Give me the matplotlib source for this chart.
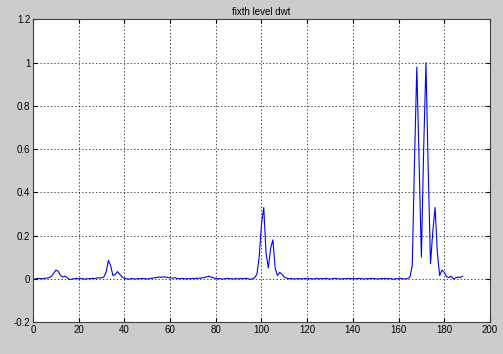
import numpy as np
import matplotlib
matplotlib.use("Agg")
import matplotlib.pyplot as plt

# fifth level dwt coefficients, sample index 1..188
coef = [
    0.000, 0.002, 0.001, 0.000, 0.002, 0.003, 0.005, 0.010, 0.025, 0.040,
    0.035, 0.015, 0.008, 0.012, 0.005, -0.004, -0.002, 0.000, 0.002, 0.000,
    0.001, 0.000, -0.002, 0.001, 0.000, 0.002, 0.001, 0.003, 0.005, 0.004,
    0.008, 0.030, 0.085, 0.060, 0.015, 0.020, 0.033, 0.020, 0.008, 0.002,
    0.000, -0.002, 0.001, 0.000, -0.001, 0.001, 0.000, 0.002, 0.000, -0.001,
    0.001, 0.002, 0.004, 0.006, 0.008, 0.007, 0.009, 0.008, 0.006, 0.004,
    0.003, 0.005, 0.002, 0.000, 0.002, 0.001, -0.001, 0.001, 0.000, 0.002,
    0.001, 0.003, 0.002, 0.004, 0.006, 0.009, 0.012, 0.008, 0.004, 0.002,
    0.000, 0.001, -0.002, 0.000, 0.002, 0.001, 0.000, -0.001, 0.001, 0.000,
    0.001, 0.000, 0.002, 0.001, -0.003, 0.000, 0.005, 0.020, 0.100, 0.250,
    0.330, 0.120, 0.050, 0.140, 0.180, 0.050, 0.015, 0.030, 0.020, 0.008,
    0.003, 0.000, 0.002, -0.001, 0.000, 0.001, 0.000, -0.001, 0.002, 0.000,
    0.001, 0.000, -0.001, 0.002, 0.000, 0.001, 0.000, 0.002, 0.001, -0.001,
    0.000, 0.002, 0.001, 0.000, -0.001, 0.001, 0.000, 0.002, 0.000, 0.001,
    0.000, 0.001, 0.002, 0.000, -0.001, 0.001, 0.000, 0.002, 0.001, 0.000,
    -0.001, 0.001, 0.000, 0.002, 0.000, 0.001, 0.000, -0.002, 0.001, 0.000,
    0.002, 0.000, -0.001, 0.001, 0.008, 0.060, 0.550, 0.980, 0.550, 0.100,
    0.600, 1.000, 0.500, 0.070, 0.220, 0.330, 0.120, 0.015, 0.040, 0.030,
    0.010, 0.005, 0.012, 0.000, 0.004, 0.008, 0.006, 0.012,
]
idx = np.arange(1, len(coef) + 1)

xticks = list(range(0, 201, 20))
yticks = [-0.2, 0, 0.2, 0.4, 0.6, 0.8, 1, 1.2]
ytick_labels = ["-0.2", "0", "0.2", "0.4", "0.6", "0.8", "1", "1.2"]

plt.rcParams['font.family'] = ['Liberation Sans', 'DejaVu Sans']

fig = plt.figure(figsize=(5.03, 3.54), dpi=100, facecolor=(0.8, 0.8, 0.8))
ax = fig.add_axes([0.0656, 0.0904, 0.9084, 0.8546])
ax.plot(idx, coef, color=(0, 0, 1), linewidth=0.8)

ax.set_xlim(0, 200)
ax.set_ylim(-0.2, 1.2)
ax.set_xticks(xticks)
ax.set_yticks(yticks)
ax.set_yticklabels(ytick_labels)
ax.tick_params(direction='in', top=True, right=True, labelsize=7, length=3, pad=2)
ax.grid(True, linestyle=(0, (2, 3)), color='black', linewidth=0.5)
for s in ax.spines.values():
    s.set_color('#404040')
    s.set_linewidth(0.8)
ax.set_title("fixth level dwt", fontsize=7, pad=3)

fig.savefig("out.png", dpi=100, facecolor=fig.get_facecolor())
